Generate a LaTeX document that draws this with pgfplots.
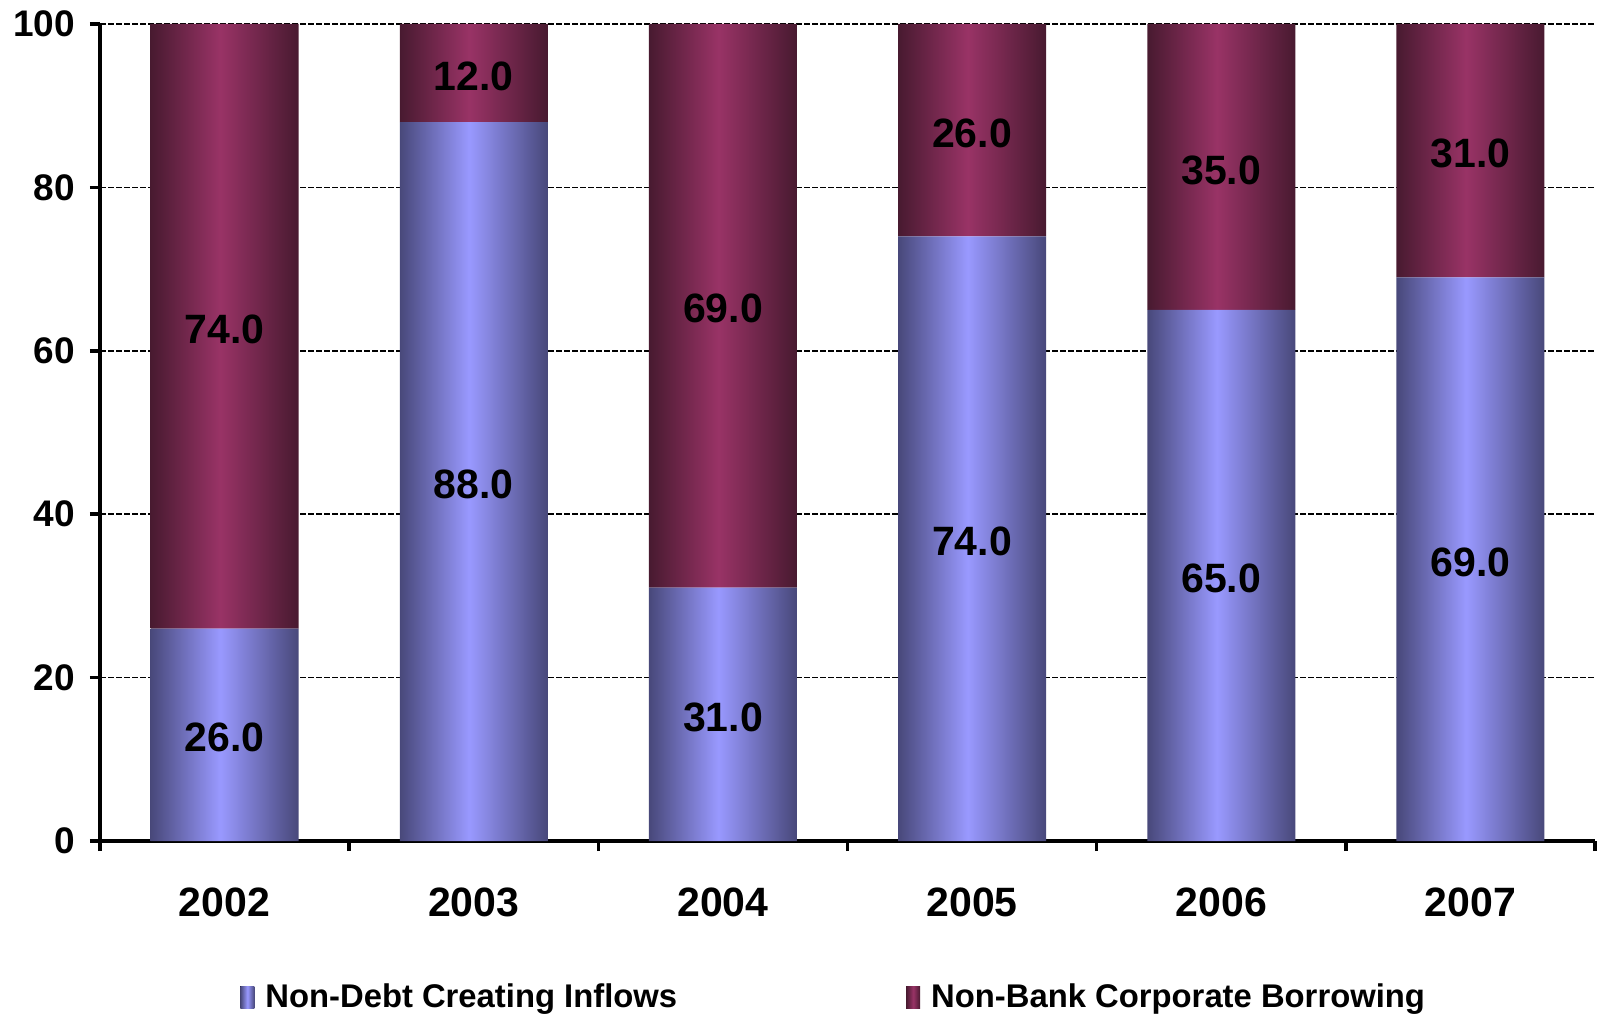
\documentclass[border=0pt]{standalone}
\usepackage{fontspec}
\setmainfont{Liberation Sans}
\usepackage{pgfplots}
\pgfplotsset{compat=1.18}
\definecolor{bdark}{RGB}{72,72,122}
\definecolor{blight}{RGB}{153,153,255}
\definecolor{mdark}{RGB}{72,26,48}
\definecolor{mlight}{RGB}{153,51,102}
% periodic horizontal shading: one light band per bar (path bbox maps to 25bp..75bp)
\pgfdeclarehorizontalshading{blueshade}{100bp}{%
color(0bp)=(bdark); color(25bp)=(bdark); color(27.495bp)=(blight); color(30.309bp)=(bdark);
color(33.938bp)=(bdark); color(36.433bp)=(blight); color(39.247bp)=(bdark);
color(42.876bp)=(bdark); color(45.371bp)=(blight); color(48.185bp)=(bdark);
color(51.815bp)=(bdark); color(54.310bp)=(blight); color(57.124bp)=(bdark);
color(60.753bp)=(bdark); color(63.248bp)=(blight); color(66.062bp)=(bdark);
color(69.691bp)=(bdark); color(72.186bp)=(blight); color(75bp)=(bdark); color(100bp)=(bdark)}
\pgfdeclarehorizontalshading{maroonshade}{100bp}{%
color(0bp)=(mdark); color(25bp)=(mdark); color(27.495bp)=(mlight); color(30.309bp)=(mdark);
color(33.938bp)=(mdark); color(36.433bp)=(mlight); color(39.247bp)=(mdark);
color(42.876bp)=(mdark); color(45.371bp)=(mlight); color(48.185bp)=(mdark);
color(51.815bp)=(mdark); color(54.310bp)=(mlight); color(57.124bp)=(mdark);
color(60.753bp)=(mdark); color(63.248bp)=(mlight); color(66.062bp)=(mdark);
color(69.691bp)=(mdark); color(72.186bp)=(mlight); color(75bp)=(mdark); color(100bp)=(mdark)}
\begin{document}
\begin{tikzpicture}
\useasboundingbox (-50pt,-88pt) rectangle (749pt,420.5pt);
\begin{axis}[
  at={(0,0)}, anchor=south west,
  scale only axis, width=747.5pt, height=408.5pt,
  ybar stacked, bar width=0.594,
  xmin=-0.5, xmax=5.5, ymin=0, ymax=100,
  xtick={0,1,2,3,4,5}, xticklabels={2002,2003,2004,2005,2006,2007},
  minor xtick={-0.5,0.5,1.5,2.5,3.5,4.5,5.5},
  major x tick style={draw=none},
  ytick={0,20,40,60,80,100},
  ymajorgrids,
  major grid style={black, line width=0.75pt, dash pattern=on 3pt off 1pt},
  axis x line*=bottom, axis y line*=left,
  axis line style={line width=2pt, black},
  tick align=outside,
  major tick length=5pt, minor tick length=5pt,
  every tick/.style={line width=1.8pt, black},
  /pgf/number format/assume math mode=true,
  yticklabel style={font=\bfseries\fontsize{18.5}{22}\selectfont, xshift=-4pt},
  xticklabel style={font=\bfseries\fontsize{20.5}{24}\selectfont, yshift=-15pt},
  nodes near coords={\pgfmathprintnumber[fixed,fixed zerofill,precision=1]{\pgfplotspointmeta}},
  every node near coord/.append style={font=\bfseries\fontsize{20.5}{24}\selectfont, black, anchor=center, yshift=-1.5pt},
  legend columns=2,
  legend style={draw=none, fill=none, inner sep=0pt,
    font=\bfseries\fontsize{16.4}{19}\selectfont,
    at={(axis description cs:0,0)}, anchor=west, xshift=70pt, yshift=-78pt,
    /tikz/every even column/.append style={column sep=112.5pt}},
]
\addplot[draw=none, shading=blueshade,
  legend image code/.code={\fill[left color=bdark, right color=bdark, middle color=blight] (0pt,-5.5pt) rectangle (7pt,5.5pt); \path (10.5pt,0pt);}]
  coordinates {(0,26) (1,88) (2,31) (3,74) (4,65) (5,69)};
\addlegendentry{Non-Debt Creating Inflows}
\addplot[draw=none, shading=maroonshade,
  legend image code/.code={\fill[left color=mdark, right color=mdark, middle color=mlight] (0pt,-5.5pt) rectangle (7pt,5.5pt); \path (10.5pt,0pt);}]
  coordinates {(0,74) (1,12) (2,69) (3,26) (4,35) (5,31)};
\addlegendentry{Non-Bank Corporate Borrowing}
\end{axis}
\end{tikzpicture}
\end{document}
